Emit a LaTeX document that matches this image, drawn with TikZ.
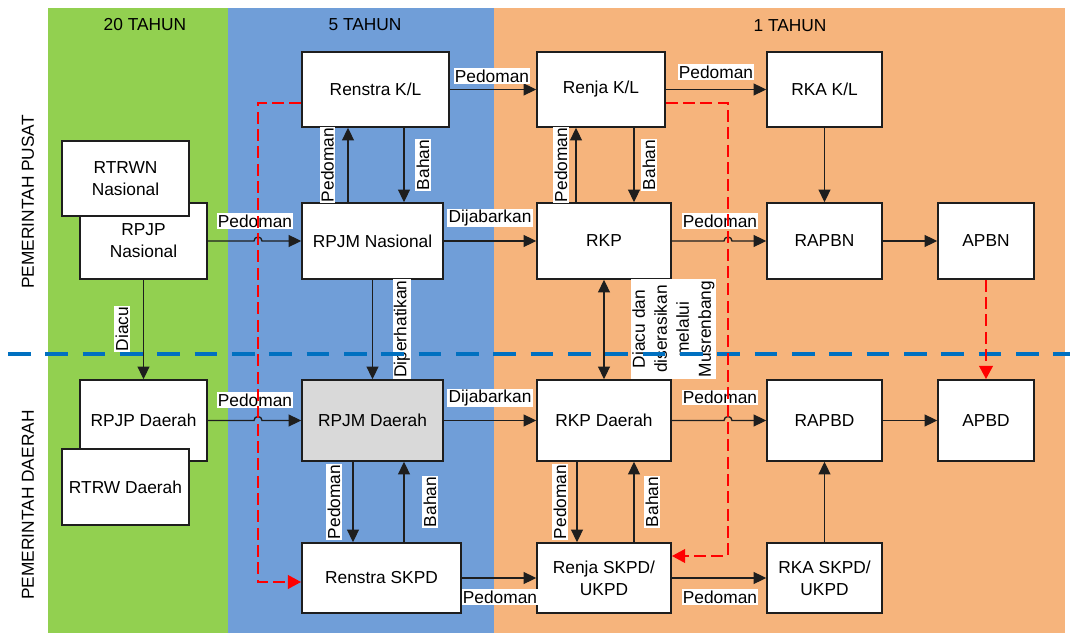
\documentclass[tikz,border=0pt]{standalone}
\usepackage{fontspec}
\setmainfont{Liberation Sans}
\usetikzlibrary{arrows.meta,calc}
\definecolor{cgreen}{RGB}{146,208,80}
\definecolor{cblue}{RGB}{112,158,216}
\definecolor{corange}{RGB}{246,180,124}
\definecolor{cdash}{RGB}{0,112,192}
\definecolor{cred}{RGB}{255,0,0}
\definecolor{cgray}{RGB}{217,217,217}
\definecolor{cline}{RGB}{30,30,30}
\begin{document}
\begin{tikzpicture}[x=0.75pt,y=-0.75pt,
  font=\fontsize{13}{16.5}\selectfont,
  bx/.style 2 args={draw=cline, line width=1.2pt, fill=white, inner sep=0pt, align=center,
    minimum width=#1*0.75pt, minimum height=#2*0.75pt},
  lbl/.style={fill=white, inner sep=1pt, align=center},
  rlbl/.style={lbl, rotate=90},
  conn/.style={draw=cline, line width=1pt, -{Triangle[length=9.5pt,width=9pt]}},
  conntwo/.style={draw=cline, line width=1pt, {Triangle[length=9.5pt,width=9pt]}-{Triangle[length=9.5pt,width=9pt]}},
  rconn/.style={draw=cred, line width=2.2pt, dash pattern=on 9pt off 4pt},
  rarrow/.style={rconn, -{Triangle[length=10pt,width=10pt,fill=cred]}},
  hdr/.style={inner sep=0pt}
]
\useasboundingbox (0,0) rectangle (1070,634);
\fill[white] (0,0) rectangle (1070,634);
% background columns
\fill[cgreen] (48,8) rectangle (228,633);
\fill[cblue] (228,8) rectangle (494,633);
\fill[corange] (494,8) rectangle (1065,633);
% headers
\node[hdr] (h20) at (145,25) {20 TAHUN};
\node[hdr] (h5) at (365,25) {5 TAHUN};
\node[hdr] (h1) at (790,26) {1 TAHUN};
\node[hdr, rotate=90] (pusat) at (28,202) {PEMERINTAH PUSAT};
\node[hdr, rotate=90] (daerah) at (28,505) {PEMERINTAH DAERAH};

% boxes
\node[bx={147}{75}] (renstrakl) at (375.5,89.5) {Renstra K/L};
\node[bx={128}{75}] (renjakl) at (601,89.5) {Renja K/L};
\node[bx={115}{75}] (rkakl) at (824.5,89.5) {RKA K/L};
\node[bx={127}{76}] (rpjpn) at (143.5,241) {RPJP\\Nasional};
\node[bx={127}{75}] (rtrwn) at (125.5,178.5) {RTRWN\\Nasional};
\node[bx={141}{76}] (rpjmn) at (372.5,241) {RPJM Nasional};
\node[bx={134}{76}] (rkp) at (604,241) {RKP};
\node[bx={115}{76}] (rapbn) at (824.5,241) {RAPBN};
\node[bx={96}{76}] (apbn) at (986,241) {APBN};
\node[bx={127}{81}] (rpjpd) at (143.5,420.5) {RPJP Daerah};
\node[bx={127}{76}] (rtrwd) at (125.5,487) {RTRW Daerah};
\node[bx={141}{81}, fill=cgray] (rpjmd) at (372.5,420.5) {RPJM Daerah};
\node[bx={134}{81}] (rkpd) at (604,420.5) {RKP Daerah};
\node[bx={115}{81}] (rapbd) at (824.5,420.5) {RAPBD};
\node[bx={96}{81}] (apbd) at (986,420.5) {APBD};
\node[bx={159}{70}] (renstraskpd) at (381.5,578) {Renstra SKPD};
\node[bx={134}{70}] (renjaskpd) at (604,578) {Renja SKPD/\\UKPD};
\node[bx={115}{70}] (rkaskpd) at (824.5,578) {RKA SKPD/\\UKPD};

% helper coordinates
\coordinate (c348) at (348,0);
\coordinate (c404) at (404,0);
\coordinate (c576) at (576,0);
\coordinate (c634) at (634,0);
\coordinate (c353) at (353,0);
\coordinate (c577) at (577,0);
\coordinate (hopa) at (258,241);
\coordinate (hopb) at (728,241);
\coordinate (hopc) at (258,420.5);
\coordinate (hopd) at (728,420.5);

% horizontal connectors
\draw[conn] (renstrakl) -- (renjakl);
\draw[conn] (renjakl) -- (rkakl);
\draw[conn] (rpjpn.east) -- ($(hopa)+(-4,0)$) arc[start angle=180,end angle=0,radius=3pt] -- (rpjmn.west);
\draw[conn] (rpjmn) -- (rkp);
\draw[conn] (rkp.east) -- ($(hopb)+(-4,0)$) arc[start angle=180,end angle=0,radius=3pt] -- (rapbn.west);
\draw[conn] (rapbn) -- (apbn);
\draw[conn] (rpjpd.east) -- ($(hopc)+(-4,0)$) arc[start angle=180,end angle=0,radius=3pt] -- (rpjmd.west);
\draw[conn] (rpjmd) -- (rkpd);
\draw[conn] (rkpd.east) -- ($(hopd)+(-4,0)$) arc[start angle=180,end angle=0,radius=3pt] -- (rapbd.west);
\draw[conn] (rapbd) -- (apbd);
\draw[conn] (renstraskpd) -- (renjaskpd);
\draw[conn] (renjaskpd) -- (rkaskpd);

% vertical connectors
\draw[conn] (rpjmn.north -| c348) -- (renstrakl.south -| c348);
\draw[conn] (renstrakl.south -| c404) -- (rpjmn.north -| c404);
\draw[conn] (rkp.north -| c576) -- (renjakl.south -| c576);
\draw[conn] (renjakl.south -| c634) -- (rkp.north -| c634);
\draw[conn] (rkakl) -- (rapbn);
\draw[conn] (rpjpn) -- (rpjpd);
\draw[conn] (rpjmn) -- (rpjmd);
\draw[conntwo] (rkp) -- (rkpd);
\draw[conn] (rpjmd.south -| c353) -- (renstraskpd.north -| c353);
\draw[conn] (renstraskpd.north -| c404) -- (rpjmd.south -| c404);
\draw[conn] (rkpd.south -| c577) -- (renjaskpd.north -| c577);
\draw[conn] (renjaskpd.north -| c634) -- (rkpd.south -| c634);
\draw[conn] (rkaskpd) -- (rapbd);

% labels
\node[lbl] (l1) at (492,76) {Pedoman};
\node[lbl] (l2) at (716,72) {Pedoman};
\node[lbl] (l3) at (255,221) {Pedoman};
\node[lbl] (l4) at (490,218) {Dijabarkan};
\node[lbl] (l5) at (720,221) {Pedoman};
\node[rlbl] (l6) at (327.5,165) {Pedoman};
\node[rlbl] (l7) at (423,165) {Bahan};
\node[rlbl] (l8) at (561,165) {Pedoman};
\node[rlbl] (l9) at (649,165) {Bahan};
\node[rlbl] (l10) at (122,329) {Diacu};
\node[rlbl] (l11) at (402,329) {Diperhatikan};
\node[rlbl] (l12) at (673.5,329) {Diacu dan\\diserasikan\\melalui\\Musrenbang};
\node[lbl] (l13) at (255,400) {Pedoman};
\node[lbl] (l14) at (490,398) {Dijabarkan};
\node[lbl] (l15) at (720,397.5) {Pedoman};
\node[rlbl] (l16) at (334,502) {Pedoman};
\node[rlbl] (l17) at (430,502) {Bahan};
\node[rlbl] (l18) at (560,502) {Pedoman};
\node[rlbl] (l19) at (652,502) {Bahan};
\node[lbl] (l20) at (500,597) {Pedoman};
\node[lbl] (l21) at (720,597) {Pedoman};

% blue dashed separator
\coordinate (sepl) at (8,354);
\coordinate (sepr) at (1070,354);
\draw[cdash, line width=2.5pt, dash pattern=on 17pt off 11pt] (sepl) -- (sepr);

% red dashed connectors
\coordinate (ra) at (258,103);
\coordinate (rb) at (258,582);
\coordinate (rc) at (728,103);
\coordinate (rd) at (728,556);
\draw[rarrow] (renstrakl.west |- ra) -- (ra) -- (rb) -- (renstraskpd.west |- rb);
\draw[rarrow] (renjakl.east |- rc) -- (rc) -- (rd) -- (renjaskpd.east |- rd);
\draw[rarrow] (apbn) -- (apbd);
\end{tikzpicture}
\end{document}
